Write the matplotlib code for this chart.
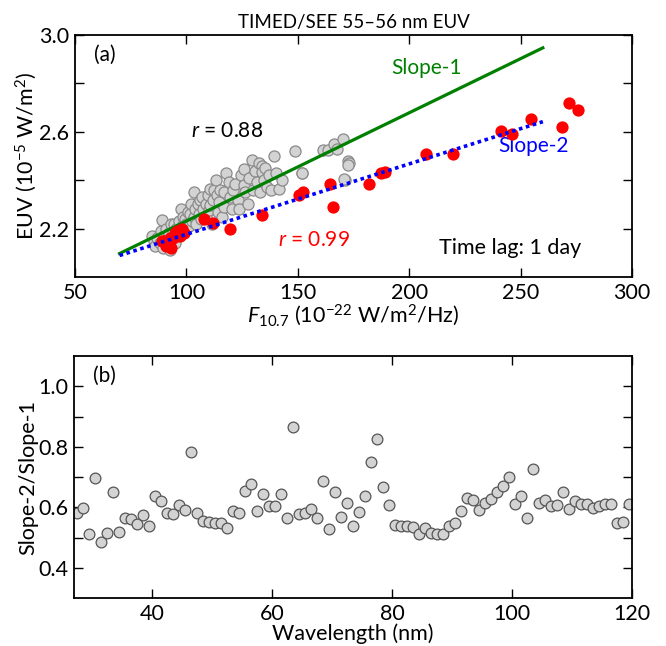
import matplotlib
matplotlib.use('Agg')
import matplotlib.pyplot as plt
import numpy as np

plt.rcParams['font.family'] = ['Lato', 'DejaVu Sans']
plt.rcParams['mathtext.fontset'] = 'custom'
plt.rcParams['mathtext.rm'] = 'Lato'
plt.rcParams['mathtext.it'] = 'Lato:italic'
plt.rcParams['font.size'] = 15

# panel (a): F10.7 vs EUV, all days (gray) and 81-day averages (red)
f107_all = [84.5, 85.5, 86, 87, 88, 88.5, 89, 89.5, 90, 90.5, 91, 91.5, 92, 92.5,
            93, 93.5, 94, 94.3, 95, 95.5, 96, 96.5, 97, 97.6, 98, 98.5, 99, 99.5,
            100, 100.5, 101, 101.5, 102, 102.5, 103.3, 103.5, 104, 104.5, 105,
            105.5, 106.3, 106.5, 107, 107.5, 108.6, 109, 109.5, 110, 110.8, 110.8,
            111.5, 112, 112.5, 113.5, 113.8, 114, 114.5, 115, 116, 116.8, 117, 118,
            119, 119.5, 120.5, 121, 122, 123, 123.6, 124.5, 125.8, 125.8, 126.5,
            127.5, 128, 129.3, 130, 131, 131.8, 132.5, 133, 134.1, 134.1, 135,
            135.5, 136.3, 137, 138, 139.3, 140, 141.6, 143, 148.6, 151.7, 152,
            161.5, 163.4, 166.4, 167.5, 170.5, 172.7, 173, 172.4, 171.2, 170.9]
euv_all = [2.17, 2.15, 2.13, 2.16, 2.14, 2.19, 2.235, 2.12, 2.17, 2.15, 2.2, 2.13,
           2.18, 2.11, 2.22, 2.16, 2.19, 2.22, 2.14, 2.2, 2.17, 2.23, 2.19, 2.283,
           2.21, 2.25, 2.2, 2.24, 2.22, 2.27, 2.21, 2.26, 2.3, 2.23, 2.351, 2.25,
           2.28, 2.22, 2.3, 2.26, 2.317, 2.24, 2.33, 2.28, 2.303, 2.25, 2.34, 2.276,
           2.365, 2.296, 2.22, 2.32, 2.36, 2.40, 2.337, 2.27, 2.31, 2.36, 2.25,
           2.351, 2.29, 2.43, 2.392, 2.33, 2.283, 2.36, 2.386, 2.32, 2.283, 2.42,
           2.379, 2.447, 2.35, 2.30, 2.41, 2.484, 2.36, 2.44, 2.392, 2.47, 2.35,
           2.46, 2.434, 2.40, 2.45, 2.372, 2.42, 2.36, 2.498, 2.43, 2.365, 2.40,
           2.519, 2.429, 2.43, 2.526, 2.526, 2.55, 2.53, 2.571, 2.481, 2.47, 2.461,
           2.402, 2.406]

f107_avg = [89, 90, 91, 92, 92.8, 93, 94, 95, 96, 97.3, 98, 99, 107.7, 112, 119.4,
            133.8, 150.5, 152.3, 164.4, 166, 182, 187.4, 189.2, 207.6, 219.8,
            241.4, 246, 254.5, 268.5, 271.6, 276]
euv_avg = [2.15, 2.15, 2.13, 2.14, 2.16, 2.12, 2.16, 2.18, 2.19, 2.17, 2.2, 2.18,
           2.24, 2.225, 2.20, 2.255, 2.34, 2.35, 2.385, 2.29, 2.385, 2.43, 2.435,
           2.51, 2.51, 2.605, 2.59, 2.655, 2.62, 2.72, 2.69]

# fitted lines, drawn between fit_x ends
fit_x = [70, 260]
slope1_y = [2.097, 2.947]
slope2_y = [2.089, 2.642]

# panel (b): slope ratio per 1-nm bin
wavelength = np.arange(27.5, 120, 1.0)
ratio = [0.582, 0.596, 0.51, 0.696, 0.486, 0.514, 0.652, 0.517, 0.563, 0.56,
         0.543, 0.574, 0.538, 0.636, 0.621, 0.582, 0.577, 0.607, 0.59, 0.782,
         0.58, 0.554, 0.551, 0.547, 0.547, 0.53, 0.586, 0.582, 0.654, 0.677,
         0.586, 0.643, 0.604, 0.604, 0.643, 0.563, 0.866, 0.577, 0.582, 0.593,
         0.563, 0.686, 0.529, 0.649, 0.569, 0.613, 0.538, 0.584, 0.638, 0.749,
         0.827, 0.666, 0.607, 0.54, 0.537, 0.537, 0.535, 0.512, 0.532, 0.516,
         0.512, 0.512, 0.538, 0.547, 0.586, 0.632, 0.624, 0.59, 0.613, 0.627,
         0.651, 0.669, 0.701, 0.61, 0.638, 0.566, 0.727, 0.613, 0.623, 0.604,
         0.607, 0.651, 0.593, 0.621, 0.61, 0.61, 0.597, 0.604, 0.612, 0.612,
         0.547, 0.552, 0.61]

fig = plt.figure(figsize=(6.66, 6.46), dpi=100)
ax1 = fig.add_axes([0.1126, 0.5712, 0.8363, 0.3746])
ax2 = fig.add_axes([0.111, 0.0743, 0.8378, 0.3746])

for ax in (ax1, ax2):
    ax.tick_params(direction='in', length=6.5, width=1.0, top=True, right=True,
                   labelsize=15.5, pad=4)
    for sp in ax.spines.values():
        sp.set_linewidth(1.3)

# panel (a)
ax1.scatter(f107_all, euv_all, s=64, facecolor='#d3d3d3', edgecolor='#8a8a8a',
            linewidth=0.9, zorder=2)
ax1.plot(fit_x, slope1_y, color='#008000', lw=2.3, zorder=3)
ax1.scatter(f107_avg, euv_avg, s=78, color='red', linewidth=0, zorder=4)
ax1.plot(fit_x, slope2_y, color='blue', lw=2.6, ls=(0, (1, 1)), zorder=5)

ax1.set_xlim(50, 300)
ax1.set_ylim(2.0, 3.0)
ax1.set_xticks([50, 100, 150, 200, 250, 300])
ax1.set_yticks([2.2, 2.4, 2.6, 2.8, 3.0])
ax1.set_yticklabels(['2.2', '', '2.6', '', '3.0'])
ax1.set_xlabel('$F_{10.7}$ (10$^{-22}$ W/m$^2$/Hz)', fontsize=15.5, labelpad=0)
ax1.set_ylabel('EUV (10$^{-5}$ W/m$^2$)', fontsize=15.5, labelpad=0)
ax1.set_title('TIMED/SEE 55\u201356 nm EUV', fontsize=13.5, pad=5)

ax1.text(0.035, 0.92, '(a)', transform=ax1.transAxes, va='center', fontsize=15)
ax1.text(118.3, 2.605, '$r$ = 0.88', ha='center', va='center', fontsize=15)
ax1.text(157.3, 2.152, '$r$ = 0.99', ha='center', va='center', color='red',
         fontsize=15)
ax1.text(207.7, 2.865, 'Slope-1', ha='center', va='center', color='#008000',
         fontsize=15)
ax1.text(255.7, 2.543, 'Slope-2', ha='center', va='center', color='blue',
         fontsize=15)
ax1.text(245.2, 2.118, 'Time lag: 1 day', ha='center', va='center',
         fontsize=15.5)

# panel (b)
ax2.scatter(wavelength, ratio, s=60, facecolor='#d3d3d3', edgecolor='#555555',
            linewidth=0.9, zorder=2)
ax2.set_xlim(27, 120)
ax2.set_ylim(0.3, 1.1)
ax2.set_xticks([40, 60, 80, 100, 120])
ax2.set_yticks([0.4, 0.5, 0.6, 0.7, 0.8, 0.9, 1.0])
ax2.set_yticklabels(['0.4', '', '0.6', '', '0.8', '', '1.0'])
ax2.set_xlabel('Wavelength (nm)', fontsize=15.5, labelpad=0)
ax2.set_ylabel('Slope-2/Slope-1', fontsize=15.5, labelpad=0)
ax2.text(0.035, 0.92, '(b)', transform=ax2.transAxes, va='center', fontsize=15)

fig.savefig('out.png', dpi=100)
